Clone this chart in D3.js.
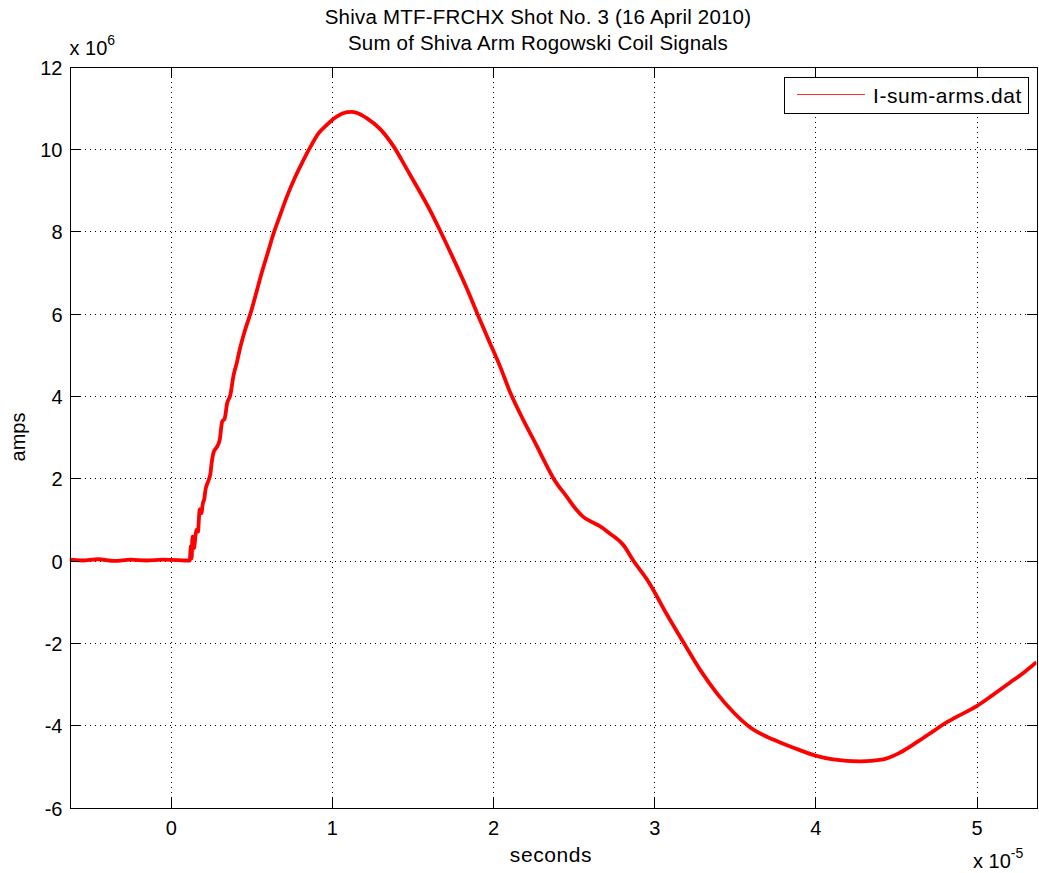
<!DOCTYPE html>
<html>
<head>
<meta charset="utf-8">
<script src="https://cdn.jsdelivr.net/npm/d3@7"></script>
<style>
  html, body { margin: 0; padding: 0; background: #fff; }
  svg { display: block; }
  text { font-family: "Liberation Sans", Arial, Helvetica, sans-serif; fill: #000; }
</style>
</head>
<body>
<svg id="chart" width="1039" height="873"></svg>
<script>
// ---- data (time in units of 1e-5 s, current in units of 1e6 A) ----
const titleLines = ["Shiva MTF-FRCHX Shot No. 3 (16 April 2010)", "Sum of Shiva Arm Rogowski Coil Signals"];
const seriesName = "I-sum-arms.dat";
const xTicks = [0, 1, 2, 3, 4, 5];
const yTicks = [-6, -4, -2, 0, 2, 4, 6, 8, 10, 12];
const xDomain = [-0.628, 5.372];
const yDomain = [-6, 12];
const timeE5 = [
  -0.628, -0.55, -0.45, -0.35, -0.25, -0.15, -0.05, 0.05, 0.100, 0.118,
  0.125, 0.130, 0.135, 0.145, 0.153, 0.160, 0.170, 0.174, 0.180, 0.190,
  0.200, 0.209, 0.215, 0.225, 0.236, 0.246, 0.255, 0.267, 0.285, 0.304,
  0.319, 0.335, 0.350, 0.370, 0.390, 0.410, 0.428, 0.463, 0.498, 0.525,
  0.567, 0.601, 0.643, 0.680, 0.722, 0.773, 0.825, 0.866, 0.918, 0.970,
  1.032, 1.094, 1.125, 1.156, 1.218, 1.300, 1.383, 1.466, 1.548, 1.610,
  1.668, 1.755, 1.838, 1.900, 1.971, 2.044, 2.110, 2.188, 2.272, 2.320,
  2.374, 2.457, 2.520, 2.560, 2.600, 2.660, 2.720, 2.810, 2.867, 2.970,
  3.077, 3.180, 3.284, 3.388, 3.490, 3.594, 3.738, 3.820, 3.900, 4.000,
  4.110, 4.276, 4.420, 4.523, 4.627, 4.730, 4.790, 4.876, 5.000, 5.100,
  5.206, 5.300, 5.372
];
const ampsE6 = [
  0.02, 0.00, 0.03, -0.01, 0.02, 0.00, 0.02, 0.01, 0.00, 0.00,
  0.35, 0.05, 0.58, 0.30, 0.58, 0.75, 0.70, 0.95, 1.25, 1.15,
  1.40, 1.51, 1.70, 1.85, 1.96, 2.10, 2.40, 2.64, 2.75, 2.93,
  3.37, 3.45, 3.82, 4.02, 4.50, 4.80, 5.12, 5.62, 6.04, 6.42,
  7.02, 7.46, 8.00, 8.40, 8.85, 9.32, 9.74, 10.04, 10.38, 10.59,
  10.79, 10.89, 10.90, 10.87, 10.74, 10.48, 10.06, 9.50, 8.94, 8.50,
  8.04, 7.32, 6.60, 6.02, 5.37, 4.71, 4.05, 3.41, 2.78, 2.40,
  2.00, 1.55, 1.22, 1.06, 0.96, 0.84, 0.67, 0.37, 0.02, -0.55,
  -1.30, -1.98, -2.65, -3.22, -3.68, -4.05, -4.35, -4.48, -4.60, -4.74,
  -4.83, -4.88, -4.83, -4.67, -4.42, -4.15, -3.99, -3.80, -3.54, -3.27,
  -2.97, -2.70, -2.47
];

// ---- layout ----
const L = 69.5, R = 1036.5, T = 66.5, B = 807.5;
const svg = d3.select("#chart");
const x = d3.scaleLinear().domain(xDomain).range([L, R]);
const y = d3.scaleLinear().domain(yDomain).range([B, T]);
const pts = timeE5.map((t, i) => [t, ampsE6[i]]);
const numFmt = d => String(d);

// grid lines (dotted)
const gx = svg.append("g").attr("transform", `translate(0,${B})`)
  .call(d3.axisBottom(x).tickValues(xTicks).tickSize(-(B - T)).tickFormat(""));
const gy = svg.append("g").attr("transform", `translate(${L},0)`)
  .call(d3.axisLeft(y).tickValues(yTicks).tickSize(-(R - L)).tickFormat(""));
[gx, gy].forEach(g => {
  g.select(".domain").remove();
  g.selectAll(".tick line").attr("stroke", "#000").attr("stroke-width", 1)
    .attr("stroke-dasharray", "1,4").attr("shape-rendering", "crispEdges");
});

// data line
svg.append("clipPath").attr("id", "plotclip").append("rect")
  .attr("x", L).attr("y", T).attr("width", R - L).attr("height", B - T);
svg.append("path").datum(pts)
  .attr("clip-path", "url(#plotclip)")
  .attr("fill", "none").attr("stroke", "#ff0000").attr("stroke-width", 3.8)
  .attr("stroke-linejoin", "round")
  .attr("d", d3.line().x(d => x(d[0])).y(d => y(d[1])).curve(d3.curveMonotoneX));

// axes (ticks pointing inward)
const fontSize = 20;
const xb = svg.append("g").attr("transform", `translate(0,${B})`)
  .call(d3.axisBottom(x).tickValues(xTicks).tickSize(-10).tickPadding(13).tickFormat(numFmt));
const xt = svg.append("g").attr("transform", `translate(0,${T})`)
  .call(d3.axisTop(x).tickValues(xTicks).tickSize(-10).tickFormat(""));
const yl = svg.append("g").attr("transform", `translate(${L},0)`)
  .call(d3.axisLeft(y).tickValues(yTicks).tickSize(-10).tickPadding(7).tickFormat(numFmt));
const yr = svg.append("g").attr("transform", `translate(${R},0)`)
  .call(d3.axisRight(y).tickValues(yTicks).tickSize(-10).tickFormat(""));
[xb, xt, yl, yr].forEach(g => {
  g.select(".domain").attr("stroke", "#000").attr("shape-rendering", "crispEdges");
  g.selectAll(".tick line").attr("stroke", "#000").attr("shape-rendering", "crispEdges");
  g.selectAll("text").attr("font-size", fontSize).attr("fill", "#000")
    .attr("font-family", "Liberation Sans, Arial, sans-serif");
});
yl.selectAll("text").attr("dy", "0.38em");

// exponent labels
const e1 = svg.append("text").attr("x", L).attr("y", 55).attr("font-size", fontSize);
e1.append("tspan").text("x 10");
e1.append("tspan").attr("dy", -10).attr("font-size", 14).text("6");
const e2 = svg.append("text").attr("x", 973).attr("y", 868).attr("font-size", fontSize);
e2.append("tspan").text("x 10");
e2.append("tspan").attr("dy", -10).attr("font-size", 14).text("-5");

// title
svg.append("text").attr("x", 538).attr("y", 23.5).attr("text-anchor", "middle")
  .attr("font-size", 20.5).attr("letter-spacing", 0.2).text(titleLines[0]);
svg.append("text").attr("x", 538).attr("y", 49.5).attr("text-anchor", "middle")
  .attr("font-size", 20.5).attr("letter-spacing", 0.2).text(titleLines[1]);

// axis labels
svg.append("text").attr("x", 551).attr("y", 862).attr("text-anchor", "middle")
  .attr("font-size", 21).attr("letter-spacing", 0.6).text("seconds");
svg.append("text").attr("transform", `translate(25,${(T + B) / 2}) rotate(-90)`)
  .attr("text-anchor", "middle").attr("font-size", fontSize).text("amps");

// legend
const lg = svg.append("g");
lg.append("rect").attr("x", 784.5).attr("y", 77.5).attr("width", 244).attr("height", 36)
  .attr("fill", "#fff").attr("stroke", "#000").attr("shape-rendering", "crispEdges");
lg.append("line").attr("x1", 797).attr("x2", 865).attr("y1", 94.5).attr("y2", 94.5)
  .attr("stroke", "#ff3030").attr("stroke-width", 1.2);
lg.append("text").attr("x", 873).attr("y", 103).attr("font-size", 21)
  .attr("letter-spacing", 0.55).text(seriesName);
</script>
</body>
</html>
